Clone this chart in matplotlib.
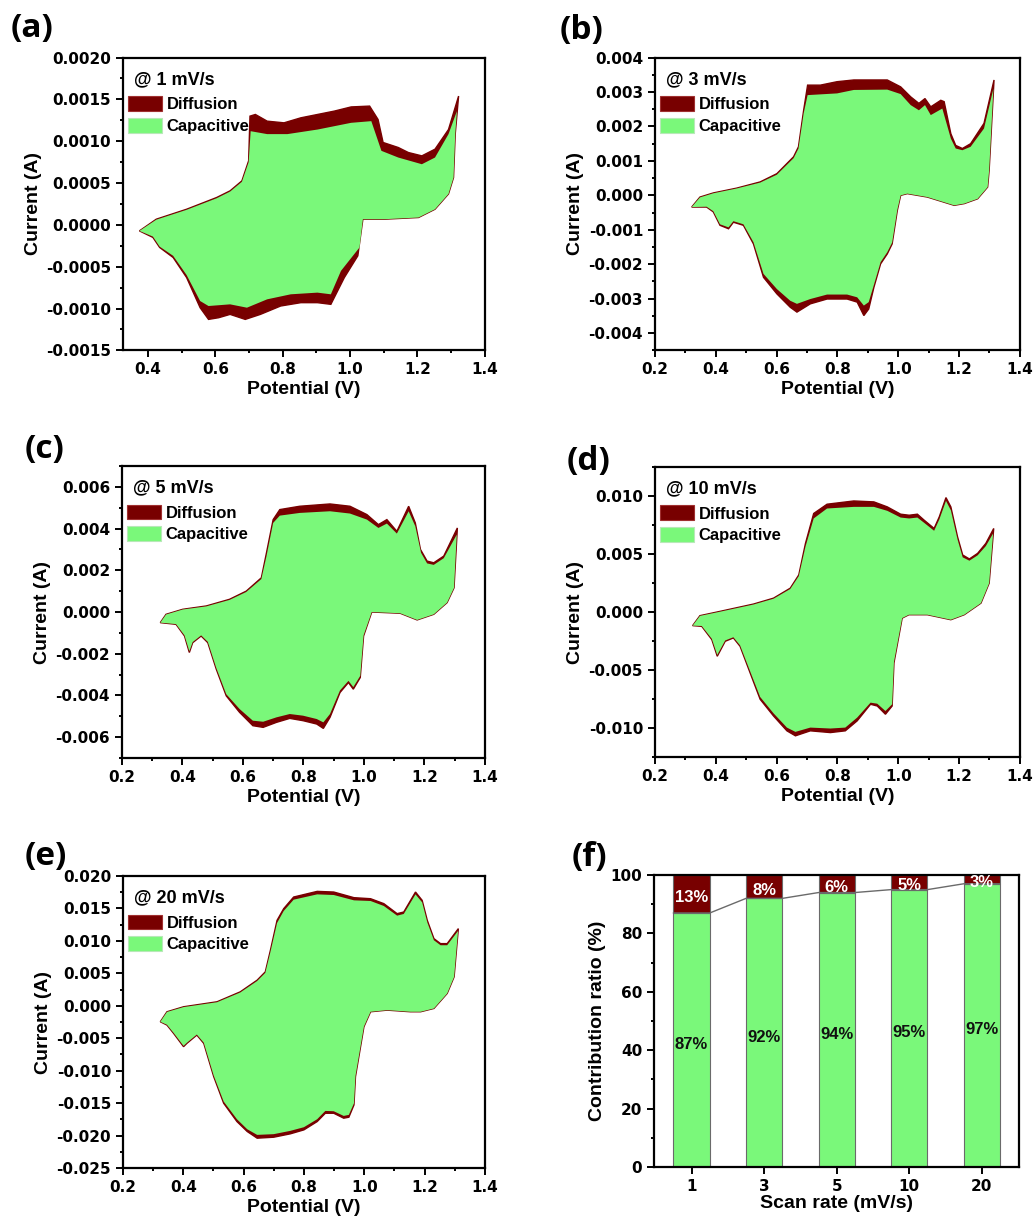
import matplotlib
matplotlib.use("Agg")
import matplotlib.pyplot as plt
from matplotlib.patches import Patch
from matplotlib.ticker import MultipleLocator, FuncFormatter

plt.rcParams['font.family'] = ['Liberation Sans', 'DejaVu Sans']
plt.rcParams['font.weight'] = 'bold'
plt.rcParams['axes.labelweight'] = 'bold'

RED = '#780000'
GREEN = '#7af87a'

# ---- CV decomposition data: (potential V, current mA) ----
# 1 mV/s
a_total_anodic = [(0.375, -0.072), (0.425, 0.068), (0.515, 0.187), (0.604, 0.327), (0.644, 0.407),
                  (0.679, 0.526), (0.699, 0.766), (0.703, 1.30), (0.719, 1.32), (0.754, 1.24),
                  (0.804, 1.22), (0.854, 1.28), (0.953, 1.36), (1.003, 1.41), (1.058, 1.42),
                  (1.083, 1.26), (1.098, 0.985), (1.143, 0.925), (1.173, 0.865), (1.213, 0.825),
                  (1.252, 0.905), (1.292, 1.14), (1.322, 1.54)]
a_cap_anodic = [(0.375, -0.072), (0.425, 0.062), (0.515, 0.18), (0.604, 0.318), (0.644, 0.398),
                (0.679, 0.515), (0.699, 0.75), (0.705, 1.12), (0.754, 1.085), (0.814, 1.085),
                (0.904, 1.14), (1.003, 1.22), (1.063, 1.24), (1.093, 0.885), (1.143, 0.805),
                (1.213, 0.725), (1.252, 0.805), (1.292, 1.085), (1.317, 1.36)]
a_total_cathodic = [(0.375, -0.072), (0.415, -0.15), (0.435, -0.27), (0.475, -0.39), (0.515, -0.63),
                    (0.555, -0.99), (0.580, -1.13), (0.610, -1.11), (0.644, -1.07), (0.689, -1.13),
                    (0.734, -1.07), (0.794, -0.97), (0.854, -0.93), (0.903, -0.93), (0.943, -0.95),
                    (0.983, -0.63), (1.023, -0.37), (1.038, 0.068), (1.103, 0.068), (1.203, 0.088),
                    (1.252, 0.187), (1.292, 0.37), (1.307, 0.566), (1.312, 1.085), (1.322, 1.54)]
a_cap_cathodic = [(0.375, -0.072), (0.415, -0.14), (0.435, -0.26), (0.475, -0.37), (0.515, -0.60),
                  (0.555, -0.91), (0.580, -0.97), (0.644, -0.95), (0.694, -0.99), (0.754, -0.89),
                  (0.824, -0.83), (0.903, -0.81), (0.943, -0.83), (0.973, -0.55), (1.028, -0.27),
                  (1.038, 0.068), (1.103, 0.068), (1.203, 0.088), (1.252, 0.187), (1.292, 0.37),
                  (1.307, 0.566), (1.312, 1.085), (1.317, 1.36)]

# 3 mV/s
b_total_anodic = [(0.321, -0.34), (0.348, -0.05), (0.392, 0.07), (0.469, 0.21), (0.546, 0.39),
                  (0.601, 0.63), (0.656, 1.12), (0.672, 1.41), (0.689, 2.47), (0.702, 3.20),
                  (0.744, 3.20), (0.799, 3.30), (0.854, 3.35), (0.964, 3.35), (1.008, 3.15),
                  (1.041, 2.86), (1.068, 2.67), (1.088, 2.81), (1.107, 2.57), (1.140, 2.76),
                  (1.151, 2.72), (1.173, 1.79), (1.189, 1.45), (1.211, 1.36), (1.238, 1.50),
                  (1.282, 2.09), (1.315, 3.35)]
b_cap_anodic = [(0.321, -0.34), (0.348, -0.06), (0.392, 0.06), (0.469, 0.20), (0.546, 0.37),
                (0.601, 0.60), (0.656, 1.08), (0.672, 1.36), (0.689, 2.38), (0.702, 2.91),
                (0.799, 2.96), (0.854, 3.06), (0.964, 3.07), (1.008, 2.94), (1.041, 2.62),
                (1.068, 2.47), (1.088, 2.62), (1.107, 2.33), (1.145, 2.52), (1.173, 1.65),
                (1.189, 1.36), (1.211, 1.31), (1.238, 1.41), (1.282, 1.94), (1.313, 3.10)]
b_total_cathodic = [(0.321, -0.34), (0.370, -0.34), (0.392, -0.48), (0.414, -0.87), (0.442, -0.97),
                    (0.458, -0.78), (0.491, -0.87), (0.524, -1.41), (0.557, -2.38), (0.601, -2.86),
                    (0.645, -3.25), (0.667, -3.39), (0.711, -3.15), (0.766, -3.01), (0.832, -3.01),
                    (0.865, -3.10), (0.887, -3.49), (0.903, -3.30), (0.920, -2.67), (0.942, -1.99),
                    (0.964, -1.70), (0.980, -1.41), (0.997, -0.44), (1.008, 0.0), (1.030, 0.05),
                    (1.096, -0.05), (1.184, -0.29), (1.217, -0.24), (1.261, -0.10), (1.294, 0.24),
                    (1.299, 0.73), (1.315, 3.35)]
b_cap_cathodic = [(0.321, -0.34), (0.370, -0.33), (0.392, -0.46), (0.414, -0.84), (0.442, -0.93),
                  (0.458, -0.75), (0.491, -0.84), (0.524, -1.36), (0.557, -2.28), (0.601, -2.72),
                  (0.645, -3.06), (0.667, -3.15), (0.711, -3.01), (0.766, -2.88), (0.832, -2.88),
                  (0.865, -2.96), (0.887, -3.20), (0.903, -3.10), (0.920, -2.60), (0.942, -1.94),
                  (0.964, -1.65), (0.980, -1.37), (0.997, -0.42), (1.008, 0.0), (1.030, 0.05),
                  (1.096, -0.05), (1.184, -0.29), (1.217, -0.24), (1.261, -0.10), (1.294, 0.24),
                  (1.299, 0.73), (1.313, 3.10)]

# 5 mV/s
c_total_anodic = [(0.327, -0.51), (0.346, -0.11), (0.401, 0.13), (0.479, 0.29), (0.556, 0.61),
                  (0.611, 1.00), (0.661, 1.64), (0.678, 2.84), (0.700, 4.43), (0.722, 4.91),
                  (0.788, 5.07), (0.888, 5.18), (0.954, 5.07), (1.010, 4.67), (1.048, 4.19),
                  (1.076, 4.43), (1.109, 3.87), (1.148, 5.07), (1.170, 4.27), (1.187, 3.00),
                  (1.209, 2.44), (1.231, 2.36), (1.264, 2.68), (1.309, 4.03)]
c_cap_anodic = [(0.327, -0.51), (0.346, -0.12), (0.401, 0.12), (0.479, 0.27), (0.556, 0.58),
                (0.611, 0.96), (0.661, 1.58), (0.678, 2.68), (0.700, 4.27), (0.722, 4.62),
                (0.788, 4.75), (0.888, 4.83), (0.954, 4.72), (1.010, 4.43), (1.048, 4.03),
                (1.076, 4.24), (1.109, 3.76), (1.148, 4.83), (1.170, 4.11), (1.189, 2.84),
                (1.209, 2.33), (1.231, 2.26), (1.264, 2.58), (1.307, 3.71)]
c_total_cathodic = [(0.327, -0.51), (0.379, -0.59), (0.407, -1.15), (0.423, -1.94), (0.434, -1.47),
                    (0.462, -1.15), (0.484, -1.47), (0.512, -2.74), (0.545, -4.02), (0.589, -4.81),
                    (0.633, -5.45), (0.667, -5.53), (0.711, -5.29), (0.755, -5.10), (0.799, -5.21),
                    (0.844, -5.37), (0.866, -5.58), (0.888, -5.05), (0.921, -3.86), (0.949, -3.38),
                    (0.965, -3.70), (0.988, -3.14), (0.999, -1.15), (1.026, 0.0), (1.120, -0.06),
                    (1.176, -0.38), (1.231, -0.11), (1.275, 0.45), (1.298, 1.16), (1.309, 4.03)]
c_cap_cathodic = [(0.327, -0.51), (0.379, -0.58), (0.407, -1.12), (0.423, -1.88), (0.434, -1.44),
                  (0.462, -1.12), (0.484, -1.43), (0.512, -2.68), (0.545, -3.94), (0.589, -4.65),
                  (0.633, -5.21), (0.667, -5.26), (0.711, -5.05), (0.755, -4.89), (0.799, -4.97),
                  (0.844, -5.13), (0.866, -5.29), (0.888, -4.89), (0.921, -3.76), (0.949, -3.30),
                  (0.965, -3.60), (0.988, -3.06), (0.999, -1.12), (1.026, 0.0), (1.120, -0.06),
                  (1.176, -0.38), (1.231, -0.11), (1.275, 0.45), (1.298, 1.16), (1.307, 3.71)]

# 10 mV/s
d_total_anodic = [(0.324, -1.17), (0.348, -0.31), (0.414, 0.06), (0.524, 0.69), (0.590, 1.20),
                  (0.645, 2.06), (0.673, 3.20), (0.695, 5.92), (0.722, 8.50), (0.766, 9.30),
                  (0.854, 9.58), (0.920, 9.50), (0.964, 9.07), (1.008, 8.44), (1.036, 8.35),
                  (1.063, 8.44), (1.085, 7.93), (1.118, 7.21), (1.135, 8.21), (1.157, 9.87),
                  (1.173, 9.07), (1.195, 6.49), (1.212, 4.92), (1.234, 4.58), (1.261, 5.06),
                  (1.288, 5.92), (1.314, 7.21)]
d_cap_anodic = [(0.324, -1.17), (0.348, -0.33), (0.414, 0.03), (0.524, 0.65), (0.590, 1.15),
                (0.645, 1.99), (0.673, 3.10), (0.695, 5.64), (0.722, 8.07), (0.766, 8.93),
                (0.854, 9.07), (0.920, 9.07), (0.964, 8.73), (1.008, 8.15), (1.036, 8.07),
                (1.063, 8.15), (1.085, 7.70), (1.118, 7.01), (1.135, 7.98), (1.157, 9.59),
                (1.173, 8.78), (1.195, 6.27), (1.212, 4.72), (1.234, 4.43), (1.261, 4.89),
                (1.288, 5.69), (1.312, 6.78)]
d_total_cathodic = [(0.324, -1.17), (0.354, -1.23), (0.387, -2.37), (0.405, -3.81), (0.431, -2.52),
                    (0.458, -2.23), (0.480, -2.95), (0.513, -5.24), (0.546, -7.52), (0.590, -8.96),
                    (0.634, -10.24), (0.662, -10.67), (0.711, -10.24), (0.777, -10.39), (0.826, -10.24),
                    (0.865, -9.38), (0.909, -7.95), (0.931, -8.10), (0.958, -8.81), (0.980, -8.10),
                    (0.986, -4.38), (1.013, -0.52), (1.035, -0.23), (1.096, -0.23), (1.173, -0.66),
                    (1.217, -0.23), (1.272, 0.77), (1.299, 2.49), (1.314, 7.21)]
d_cap_cathodic = [(0.324, -1.17), (0.354, -1.20), (0.387, -2.30), (0.405, -3.70), (0.431, -2.45),
                  (0.458, -2.17), (0.480, -2.87), (0.513, -5.10), (0.546, -7.32), (0.590, -8.73),
                  (0.634, -9.96), (0.662, -10.33), (0.711, -9.96), (0.777, -10.04), (0.826, -9.96),
                  (0.865, -9.10), (0.909, -7.81), (0.931, -7.90), (0.958, -8.53), (0.980, -7.95),
                  (0.986, -4.30), (1.013, -0.52), (1.035, -0.23), (1.096, -0.23), (1.173, -0.66),
                  (1.217, -0.23), (1.272, 0.77), (1.299, 2.49), (1.312, 6.78)]

# 20 mV/s
e_total_anodic = [(0.324, -2.46), (0.346, -0.92), (0.401, -0.15), (0.512, 0.62), (0.589, 2.15),
                  (0.645, 3.95), (0.672, 5.23), (0.689, 8.56), (0.711, 13.17), (0.733, 14.97),
                  (0.766, 16.76), (0.844, 17.63), (0.899, 17.53), (0.966, 16.66), (1.021, 16.50),
                  (1.065, 15.74), (1.109, 14.20), (1.131, 14.45), (1.170, 17.53), (1.192, 16.25),
                  (1.209, 13.17), (1.231, 10.35), (1.253, 9.58), (1.275, 9.58), (1.312, 11.89)]
e_cap_anodic = [(0.324, -2.46), (0.346, -0.95), (0.401, -0.20), (0.512, 0.55), (0.589, 2.05),
                (0.645, 3.82), (0.672, 5.08), (0.689, 8.30), (0.711, 12.76), (0.733, 14.61),
                (0.766, 16.35), (0.844, 17.17), (0.899, 17.07), (0.966, 16.25), (1.021, 16.15),
                (1.065, 15.38), (1.109, 13.89), (1.131, 14.15), (1.170, 17.17), (1.192, 15.94),
                (1.209, 12.87), (1.231, 10.10), (1.253, 9.33), (1.275, 9.33), (1.311, 11.53)]
e_total_cathodic = [(0.324, -2.46), (0.346, -2.97), (0.368, -4.25), (0.401, -6.30), (0.412, -5.79),
                    (0.445, -4.51), (0.468, -5.79), (0.501, -10.92), (0.534, -15.02), (0.578, -17.84),
                    (0.612, -19.37), (0.645, -20.40), (0.700, -20.25), (0.755, -19.73), (0.800, -19.12),
                    (0.844, -17.84), (0.871, -16.56), (0.899, -16.56), (0.932, -17.32), (0.949, -17.17),
                    (0.966, -15.27), (0.971, -10.92), (0.999, -3.23), (1.021, -0.92), (1.076, -0.67),
                    (1.153, -0.92), (1.187, -0.92), (1.231, -0.41), (1.275, 1.90), (1.298, 4.46),
                    (1.312, 11.89)]
e_cap_cathodic = [(0.324, -2.46), (0.346, -2.92), (0.368, -4.17), (0.401, -6.18), (0.412, -5.70),
                  (0.445, -4.43), (0.468, -5.68), (0.501, -10.75), (0.534, -14.75), (0.578, -17.48),
                  (0.612, -19.02), (0.645, -19.89), (0.700, -19.78), (0.755, -19.27), (0.800, -18.71),
                  (0.844, -17.48), (0.871, -16.20), (0.899, -16.25), (0.932, -16.97), (0.949, -16.81),
                  (0.966, -15.02), (0.971, -10.80), (0.999, -3.20), (1.021, -0.92), (1.076, -0.67),
                  (1.153, -0.92), (1.187, -0.92), (1.231, -0.41), (1.275, 1.90), (1.298, 4.46),
                  (1.311, 11.53)]

# ---- contribution ratios ----
scan_rates = ['1', '3', '5', '10', '20']
capacitive_pct = [87, 92, 94, 95, 97]
diffusion_pct = [13, 8, 6, 5, 3]

TICK_FS = 11
LABEL_FS = 14


def loop(anodic, cathodic):
    pts = list(anodic) + list(reversed(cathodic))
    return [p[0] for p in pts], [p[1] * 1e-3 for p in pts]


def fixed(fmt):
    return FuncFormatter(lambda v, pos: fmt % (0.0 if abs(v) < 1e-12 else v))


def style_axes(ax):
    for s in ax.spines.values():
        s.set_linewidth(1.6)
    ax.tick_params(which='both', direction='out', width=1.4, labelsize=TICK_FS,
                   top=False, right=False, labelfontfamily='DejaVu Sans')
    ax.tick_params(which='major', length=5)
    ax.tick_params(which='minor', length=2.5)
    for lab in ax.get_xticklabels() + ax.get_yticklabels():
        lab.set_fontweight('bold')


panels = [
    dict(label='(a)', rate='@ 1 mV/s', rect=[0.119, 0.714, 0.3504, 0.239],
         data=(a_total_anodic, a_total_cathodic, a_cap_anodic, a_cap_cathodic),
         xlim=(0.326, 1.4), ylim=(-0.0015, 0.0020), ymaj=0.0005, fmt='%.4f',
         lab_xy=(0.010, 0.977)),
    dict(label='(b)', rate='@ 3 mV/s', rect=[0.634, 0.714, 0.3533, 0.239],
         data=(b_total_anodic, b_total_cathodic, b_cap_anodic, b_cap_cathodic),
         xlim=(0.2, 1.4), ylim=(-0.0045, 0.004), ymaj=0.001, fmt='%.3f',
         lab_xy=(0.542, 0.975)),
    dict(label='(c)', rate='@ 5 mV/s', rect=[0.118, 0.3812, 0.3514, 0.2384],
         data=(c_total_anodic, c_total_cathodic, c_cap_anodic, c_cap_cathodic),
         xlim=(0.2, 1.4), ylim=(-0.007, 0.007), ymaj=0.002, fmt='%.3f',
         lab_xy=(0.024, 0.633)),
    dict(label='(d)', rate='@ 10 mV/s', rect=[0.634, 0.382, 0.3533, 0.2367],
         data=(d_total_anodic, d_total_cathodic, d_cap_anodic, d_cap_cathodic),
         xlim=(0.2, 1.4), ylim=(-0.0125, 0.0125), ymaj=0.005, fmt='%.3f',
         lab_xy=(0.549, 0.623)),
    dict(label='(e)', rate='@ 20 mV/s', rect=[0.119, 0.0465, 0.3504, 0.2384],
         data=(e_total_anodic, e_total_cathodic, e_cap_anodic, e_cap_cathodic),
         xlim=(0.2, 1.4), ylim=(-0.025, 0.020), ymaj=0.005, fmt='%.3f',
         lab_xy=(0.024, 0.301)),
]

fig = plt.figure(figsize=(10.33, 12.25), dpi=100)

for p in panels:
    ax = fig.add_axes(p['rect'])
    ta, tc, ca, cc = p['data']
    vt, it = loop(ta, tc)
    vc, ic = loop(ca, cc)
    ax.fill(vt, it, facecolor=RED, edgecolor=RED, linewidth=1.0, zorder=2)
    ax.fill(vc, ic, facecolor=GREEN, edgecolor='none', zorder=3)
    ax.set_xlim(*p['xlim'])
    ax.set_ylim(*p['ylim'])
    ax.xaxis.set_major_locator(MultipleLocator(0.2))
    ax.xaxis.set_minor_locator(MultipleLocator(0.1))
    ax.yaxis.set_major_locator(MultipleLocator(p['ymaj']))
    ax.yaxis.set_minor_locator(MultipleLocator(p['ymaj'] / 2))
    ax.xaxis.set_major_formatter(fixed('%.1f'))
    ax.yaxis.set_major_formatter(fixed(p['fmt']))
    ax.set_xlabel('Potential (V)', fontsize=LABEL_FS, fontweight='bold', labelpad=3)
    ax.set_ylabel('Current (A)', fontsize=LABEL_FS, fontweight='bold', labelpad=3)
    style_axes(ax)
    ax.text(0.03, 0.925, p['rate'], transform=ax.transAxes, fontsize=13,
            fontweight='bold', va='center', ha='left')
    handles = [Patch(facecolor=RED, edgecolor='#a03030', linewidth=0.8, label='Diffusion'),
               Patch(facecolor=GREEN, edgecolor='#b8e8b8', linewidth=0.8, label='Capacitive')]
    ax.legend(handles=handles, loc='upper left', bbox_to_anchor=(0.015, 0.868),
              frameon=False, handlelength=2.0, handleheight=1.0,
              handletextpad=0.3, labelspacing=0.32, borderpad=0.0, borderaxespad=0.0,
              prop={'weight': 'bold', 'size': 12})
    fig.text(p['lab_xy'][0], p['lab_xy'][1], p['label'], fontsize=24,
             fontweight='bold', family='Open Sans', va='center', ha='left')

# ---- contribution bar chart ----
axf = fig.add_axes([0.633, 0.0473, 0.3533, 0.2384])
xpos = list(range(len(scan_rates)))
axf.bar(xpos, capacitive_pct, width=0.5, color=GREEN, edgecolor='#6a6a6a',
        linewidth=0.8, zorder=2)
axf.bar(xpos, diffusion_pct, width=0.5, bottom=capacitive_pct, color=RED,
        edgecolor='#6a6a6a', linewidth=0.8, zorder=2)
line_x, line_y = [], []
for x, c in zip(xpos, capacitive_pct):
    line_x += [x - 0.25, x + 0.25]
    line_y += [c, c]
axf.plot(line_x, line_y, color='#6a6a6a', linewidth=1.0, zorder=3)
for x, c, d in zip(xpos, capacitive_pct, diffusion_pct):
    axf.text(x, c / 2 - 1.5, f'{c}%', ha='center', va='center', fontsize=12,
             fontweight='bold', color='#111111', zorder=4)
    axf.text(x, (100 + c) / 2 - 1.2, f'{d}%', ha='center', va='center', fontsize=12,
             fontweight='bold', color='white', zorder=4)
axf.set_xlim(-0.52, 4.51)
axf.set_ylim(0, 100)
axf.set_xticks(xpos)
axf.set_xticklabels(scan_rates)
axf.yaxis.set_major_locator(MultipleLocator(20))
axf.yaxis.set_minor_locator(MultipleLocator(10))
axf.set_xlabel('Scan rate (mV/s)', fontsize=LABEL_FS, fontweight='bold', labelpad=1)
axf.set_ylabel('Contribution ratio (%)', fontsize=LABEL_FS, fontweight='bold', labelpad=3)
style_axes(axf)
axf.tick_params(axis='x', which='minor', bottom=False)
fig.text(0.553, 0.3, '(f)', fontsize=24, fontweight='bold', family='Open Sans',
         va='center', ha='left')

fig.savefig('out.png', dpi=100)
